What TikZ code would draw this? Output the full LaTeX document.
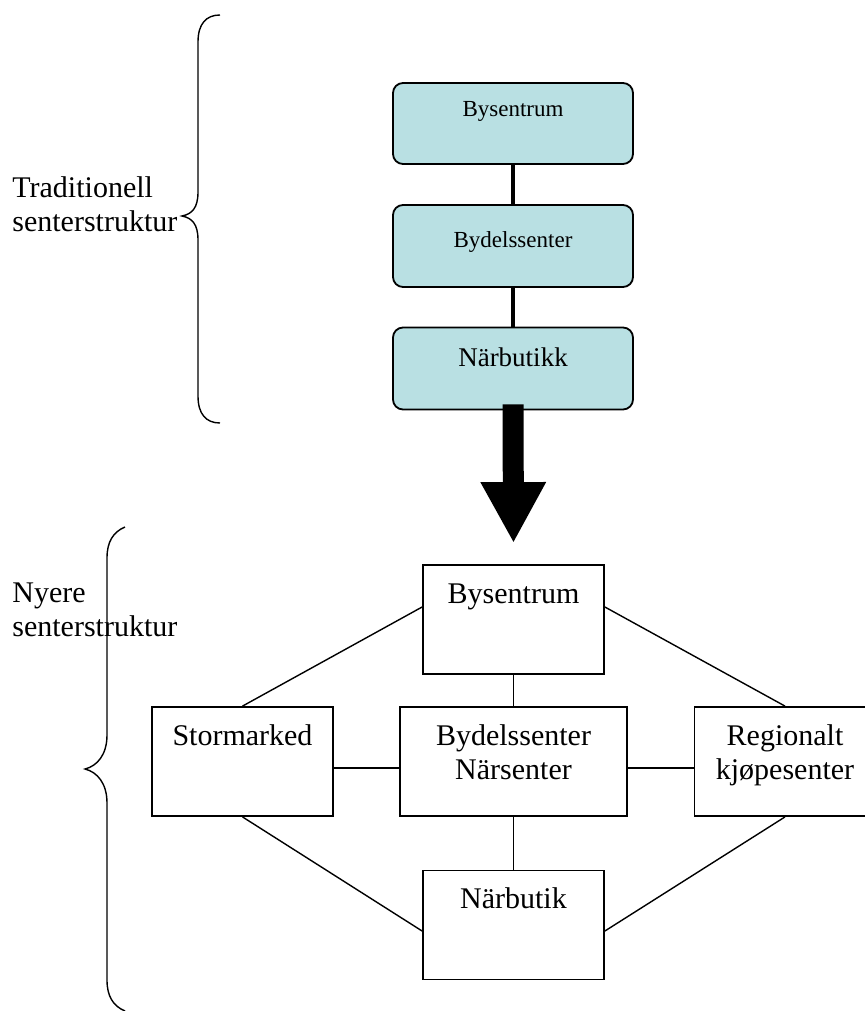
\documentclass[tikz,border=0pt]{standalone}
\usepackage{fontspec}
\setmainfont{Liberation Serif}
\usetikzlibrary{arrows.meta,positioning}
\definecolor{boxcyan}{RGB}{185,224,227}

\begin{document}
\begin{tikzpicture}[x=0.5pt,y=0.5pt,node distance=61.25pt]
  \tikzstyle{oldbox} = [rectangle, draw, line width=0.9pt, fill=boxcyan, rounded corners=5pt, minimum width=120pt, inner ysep=0pt]
  \tikzstyle{newbox} = [rectangle, draw, line width=0.9pt, minimum width=90.5pt, inner ysep=0pt, text height=19pt, text depth=35.5pt, font=\fontsize{15}{17}\selectfont, align=center]
  \tikzstyle{twolines} = [text height=36pt, text depth=18.5pt]
  \tikzstyle{side} = [anchor=north west, inner sep=0pt, align=left, font=\fontsize{15}{17}\selectfont]
  \tikzstyle{brace} = [line width=0.7pt]
  \tikzstyle{link} = [line width=0.7pt]

  \useasboundingbox (0,0) rectangle (865,-1011);

  % traditionell struktur
  \node [oldbox, font=\fontsize{11.5}{13}\selectfont, text height=17pt, text depth=23.5pt] (bys1) at (513,-123.5) {Bysentrum};
  \node [oldbox, below of=bys1, font=\fontsize{11.5}{13}\selectfont, text height=21pt, text depth=20pt] (bydel1) {Bydelssenter};
  \node [oldbox, below of=bydel1, font=\fontsize{13.5}{15}\selectfont, text height=19.5pt, text depth=21.5pt] (nbk) {Närbutikk};

  \draw [line width=2pt] (bys1) -- (bydel1);
  \draw [line width=2pt] (bydel1) -- (nbk);

  % nyere struktur
  \node [newbox] (bys2) at (513.5,-619.5) {Bysentrum};
  \node [newbox] (stor) at (242.5,-761.5) {Stormarked};
  \node [newbox, twolines, minimum width=113.5pt] (bydel2) at (513.5,-761.5) {Bydelssenter\\Närsenter};
  \node [newbox, twolines] (reg) at (785,-761.5) {Regionalt\\kjøpesenter};
  \node [newbox] (nar) at (513.5,-925) {Närbutik};

  \draw [line width=10.5pt, -{Triangle[width=30.5pt,length=30.5pt]}] ([yshift=3pt]nbk.south) -- ([yshift=10.5pt]bys2.north);

  \draw [link] ([yshift=6.25pt]bys2.west) -- (stor.north);
  \draw [link] ([yshift=6.25pt]bys2.east) -- (reg.north);
  \draw [link] (bys2) -- (bydel2);
  \draw [link] ([yshift=-3.25pt]stor.east) -- ([yshift=-3.25pt]bydel2.west);
  \draw [link] ([yshift=-3.25pt]bydel2.east) -- ([yshift=-3.25pt]reg.west);
  \draw [link] (bydel2) -- (nar);
  \draw [link] (stor.south) -- ([yshift=-3pt]nar.west);
  \draw [link] (reg.south) -- ([yshift=-3pt]nar.east);

  % klammer og tekst
  \node [side] (trad) at (12,-176) {Traditionell\\senterstruktur};
  \node [side] (nyere) at (12,-582) {Nyere\\senterstruktur};

  \draw [brace] (220,-15) .. controls (206,-15) and (198,-24) .. (198,-42) -- (198,-192)
    .. controls (198,-208) and (192,-214) .. (182,-216)
    .. controls (192,-218) and (198,-224) .. (198,-240) -- (198,-396)
    .. controls (198,-414) and (206,-423) .. (220,-423);
  \draw [brace] (125,-527) .. controls (113,-532) and (107,-542) .. (107,-558) -- (107,-735)
    .. controls (107,-755) and (97,-766) .. (85,-769)
    .. controls (97,-772) and (107,-783) .. (107,-803) -- (107,-980)
    .. controls (107,-996) and (113,-1006) .. (125,-1011);
\end{tikzpicture}
\end{document}
